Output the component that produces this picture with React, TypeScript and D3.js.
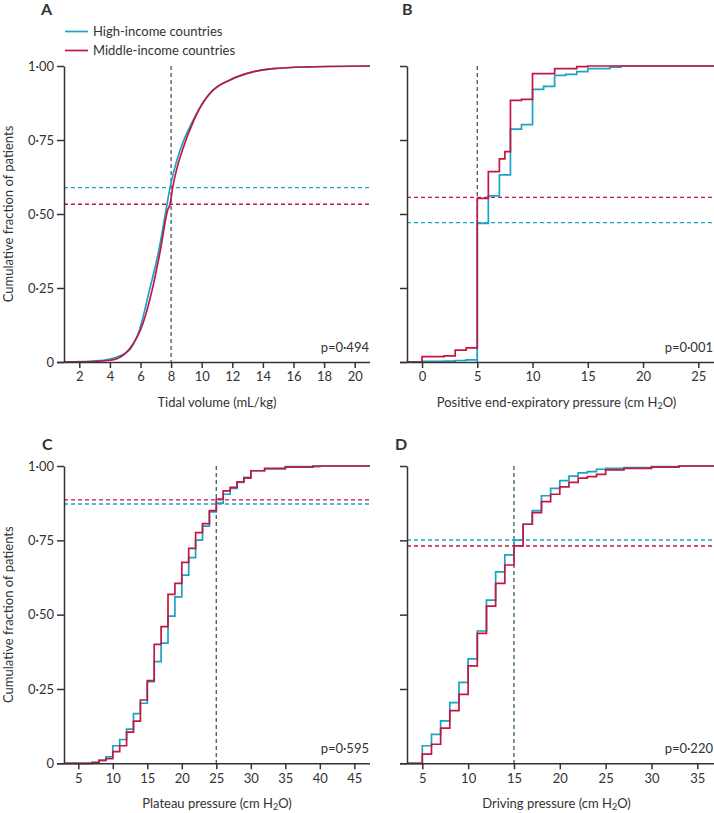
import React, { useEffect, useRef } from "react";
import * as d3 from "d3";

// Panel A: tidal volume ECDF (smooth)
const tidalHighX = [1, 2, 3, 4, 4.5, 5, 5.35, 5.93, 6.59, 7.2, 7.67, 7.93, 8.26, 8.59, 9.45, 10.2, 10.76, 11.85, 13.35, 14.67, 17, 21];
const tidalHighY = [0, 0.001, 0.003, 0.01, 0.018, 0.03, 0.045, 0.108, 0.243, 0.378, 0.514, 0.589, 0.66, 0.716, 0.818, 0.885, 0.919, 0.953, 0.98, 0.991, 0.997, 1];
const tidalMidX = [1, 2, 3, 4, 4.5, 5, 5.5, 6.0, 6.76, 7.3, 7.78, 7.93, 8.1, 8.41, 8.74, 9.5, 10.2, 10.76, 11.85, 13.35, 14.67, 17, 21];
const tidalMidY = [0, 0, 0.002, 0.006, 0.012, 0.028, 0.06, 0.108, 0.243, 0.378, 0.514, 0.533, 0.589, 0.66, 0.716, 0.818, 0.885, 0.919, 0.953, 0.98, 0.991, 0.997, 1];

// Panel B: PEEP (steps)
const peepHighX = [0, 2, 3, 4, 5, 6, 7, 8, 9, 10, 11, 12, 13, 14, 15, 17, 18];
const peepHighY = [0.002, 0.003, 0.005, 0.007, 0.468, 0.561, 0.632, 0.787, 0.802, 0.921, 0.931, 0.968, 0.972, 0.981, 0.991, 0.996, 1.0];
const peepMidX = [0, 2, 3, 4, 5, 6, 7, 7.5, 8, 9, 10, 12, 14, 15];
const peepMidY = [0.018, 0.021, 0.04, 0.048, 0.553, 0.643, 0.686, 0.711, 0.884, 0.887, 0.974, 0.991, 0.998, 1.0];

// Panel C: plateau pressure (steps)
const plateauHighX = [7, 8, 9, 10, 11, 12, 13, 14, 15, 16, 17, 18, 19, 20, 21, 22, 23, 24, 25, 26, 27, 28, 29, 30, 32, 35, 40];
const plateauHighY = [0.003, 0.01, 0.022, 0.059, 0.08, 0.115, 0.167, 0.202, 0.275, 0.342, 0.404, 0.495, 0.56, 0.633, 0.692, 0.751, 0.798, 0.846, 0.875, 0.905, 0.925, 0.945, 0.962, 0.984, 0.99, 0.998, 1.0];
const plateauMidX = [7, 8, 9, 10, 11, 12, 13, 14, 15, 16, 17, 18, 19, 20, 21, 22, 23, 24, 25, 26, 27, 28, 29, 30, 32, 35, 39];
const plateauMidY = [0.002, 0.01, 0.016, 0.039, 0.059, 0.105, 0.142, 0.213, 0.278, 0.4, 0.46, 0.568, 0.605, 0.676, 0.723, 0.776, 0.806, 0.85, 0.889, 0.916, 0.928, 0.947, 0.959, 0.984, 0.992, 0.996, 1.0];

// Panel D: driving pressure (steps)
const drivingX = [5, 6, 7, 8, 9, 10, 11, 12, 13, 14, 15, 16, 17, 18, 19, 20, 21, 22, 23, 24, 25, 27, 30, 33];
const drivingHighY = [0.059, 0.097, 0.143, 0.204, 0.272, 0.351, 0.445, 0.549, 0.644, 0.701, 0.751, 0.804, 0.85, 0.9, 0.925, 0.951, 0.966, 0.977, 0.981, 0.989, 0.992, 0.995, 0.998, 1.0];
const drivingMidY = [0.031, 0.064, 0.118, 0.177, 0.232, 0.328, 0.437, 0.529, 0.605, 0.667, 0.731, 0.804, 0.843, 0.88, 0.905, 0.93, 0.945, 0.959, 0.964, 0.972, 0.987, 0.992, 0.996, 1.0];

// reference lines: [vertical x, high-income y, middle-income y]
const refA = [8, 0.589, 0.533];
const refB = [5, 0.471, 0.556];
const refC = [25, 0.872, 0.886];
const refD = [15, 0.751, 0.731];

const pValues = ["p=0·494", "p=0·001", "p=0·595", "p=0·220"];
const yTicks = [0, 0.25, 0.5, 0.75, 1];
const seriesNames = ["High-income countries", "Middle-income countries"];

const CYAN = "#1ba3c6";
const RED = "#c41640";
const INK = "#333";
const FONT = "Lato, 'Open Sans', sans-serif";

const fmtY = (d: number) => (d === 0 ? "0" : d3.format(".2f")(d).replace(".", "·"));

export default function App() {
  const ref = useRef<SVGSVGElement>(null);

  useEffect(() => {
    const svg = d3.select(ref.current);
    svg.selectAll("*").remove();

    const panels = [
      { letter: "A", lx: 41, ly: 15, xDomain: [1, 21], xRange: [64, 370], yRange: [362, 66], ticks: d3.range(2, 21, 2),
        hx: tidalHighX, hy: tidalHighY, mx: tidalMidX, my: tidalMidY, smooth: true, refs: refA, p: pValues[0],
        label: ["Tidal volume (mL/kg)"], yLabels: true },
      { letter: "B", lx: 402, ly: 15, xDomain: [-1.36, 26.42], xRange: [407, 714], yRange: [362, 66], ticks: d3.range(0, 26, 5),
        hx: peepHighX, hy: peepHighY, mx: peepMidX, my: peepMidY, smooth: false, refs: refB, p: pValues[1],
        label: ["Positive end-expiratory pressure (cm H", "2", "O)"], yLabels: false },
      { letter: "C", lx: 42, ly: 450, xDomain: [2.93, 47.27], xRange: [64, 370], yRange: [763.3, 466], ticks: d3.range(5, 46, 5),
        hx: plateauHighX, hy: plateauHighY, mx: plateauMidX, my: plateauMidY, smooth: false, refs: refC, p: pValues[2],
        label: ["Plateau pressure (cm H", "2", "O)"], yLabels: true },
      { letter: "D", lx: 395, ly: 450, xDomain: [3.33, 36.82], xRange: [407, 714], yRange: [763.3, 466], ticks: d3.range(5, 36, 5),
        hx: drivingX, hy: drivingHighY, mx: drivingX, my: drivingMidY, smooth: false, refs: refD, p: pValues[3],
        label: ["Driving pressure (cm H", "2", "O)"], yLabels: false },
    ];

    panels.forEach((pn) => {
      const x = d3.scaleLinear().domain(pn.xDomain).range(pn.xRange);
      const y = d3.scaleLinear().domain([0, 1]).range(pn.yRange);
      const g = svg.append("g");
      const [x0, x1] = pn.xRange;
      const [yb, yt] = pn.yRange;

      // reference lines
      const dash = "4,3";
      g.append("line").attr("x1", x(pn.refs[0])).attr("x2", x(pn.refs[0]))
        .attr("y1", yt).attr("y2", yb).attr("stroke", "#48667a").attr("stroke-width", 1.4).attr("stroke-dasharray", dash);
      g.append("line").attr("x1", x0).attr("x2", x1).attr("y1", y(pn.refs[1])).attr("y2", y(pn.refs[1]))
        .attr("stroke", CYAN).attr("stroke-width", 1.4).attr("stroke-dasharray", dash);
      g.append("line").attr("x1", x0).attr("x2", x1).attr("y1", y(pn.refs[2])).attr("y2", y(pn.refs[2]))
        .attr("stroke", RED).attr("stroke-width", 1.4).attr("stroke-dasharray", dash);

      // curves
      const lo = pn.xDomain[0], hi = pn.xDomain[1];
      const build = (xs: number[], ys: number[]) => {
        const pts: [number, number][] = xs.map((v, i) => [v, ys[i]]);
        if (!pn.smooth) {
          pts.unshift([lo, 0]);
          pts.push([hi, ys[ys.length - 1]]);
        }
        return pts;
      };
      const line = d3.line<[number, number]>()
        .x((d) => x(d[0])).y((d) => y(d[1]))
        .curve(pn.smooth ? d3.curveMonotoneX : d3.curveStepAfter);
      g.append("path").attr("d", line(build(pn.hx, pn.hy))).attr("fill", "none")
        .attr("stroke", CYAN).attr("stroke-width", 1.7);
      g.append("path").attr("d", line(build(pn.mx, pn.my))).attr("fill", "none")
        .attr("stroke", RED).attr("stroke-width", 1.7);

      // axes
      const xAxis = g.append("g").attr("transform", `translate(0,${yb})`)
        .call(d3.axisBottom(x).tickValues(pn.ticks).tickSize(6).tickSizeOuter(0).tickFormat(d3.format("d")));
      xAxis.select(".domain").attr("d", `M${x0 - 7},0.5H${x1}`);
      const yAxis = g.append("g").attr("transform", `translate(${x0},0)`)
        .call(d3.axisLeft(y).tickValues(yTicks).tickSize(7).tickSizeOuter(0)
          .tickFormat(pn.yLabels ? (fmtY as any) : () => ""));
      [xAxis, yAxis].forEach((a) => {
        a.selectAll("path, line").attr("stroke", INK).attr("stroke-width", 1.5);
        a.selectAll("text").attr("fill", INK).attr("font-family", FONT).attr("font-size", 13);
      });
      xAxis.selectAll("text").attr("dy", "0.95em").attr("y", 7);
      yAxis.selectAll("text").attr("x", -10);

      // axis label
      const t = g.append("text").attr("x", (x0 + x1) / 2 - (pn.yLabels ? 0 : 4)).attr("y", yb + 45)
        .attr("text-anchor", "middle").attr("font-family", FONT).attr("font-size", 13).attr("fill", INK);
      t.append("tspan").text(pn.label[0]);
      if (pn.label.length > 1) {
        t.append("tspan").attr("dy", 2).attr("font-size", 9).text(pn.label[1]);
        t.append("tspan").attr("dy", -2).text(pn.label[2]);
      }

      // p value
      g.append("text").attr("x", x1 - 1).attr("y", yb - 10).attr("text-anchor", "end")
        .attr("font-family", FONT).attr("font-size", 13).attr("fill", INK).text(pn.p);

      // panel letter
      g.append("text").attr("x", pn.lx).attr("y", pn.ly).attr("font-family", FONT).attr("font-weight", 700)
        .attr("font-size", 16).attr("fill", INK).text(pn.letter);

      if (pn.yLabels) {
        g.append("text").attr("transform", `translate(13,${(yb + yt) / 2}) rotate(-90)`)
          .attr("text-anchor", "middle").attr("font-family", FONT).attr("font-size", 13).attr("fill", INK)
          .text("Cumulative fraction of patients");
      }
    });

    // legend
    const leg = svg.append("g");
    [CYAN, RED].forEach((c, i) => {
      leg.append("line").attr("x1", 65).attr("x2", 88).attr("y1", 31.5 + i * 19).attr("y2", 31.5 + i * 19)
        .attr("stroke", c).attr("stroke-width", 1.7);
      leg.append("text").attr("x", 93).attr("y", 36 + i * 19).attr("font-family", FONT).attr("font-size", 13)
        .attr("fill", INK).text(seriesNames[i]);
    });
  }, []);

  return (
    <div style={{ position: "absolute", left: 0, top: 0 }}>
      <svg ref={ref} width={714} height={813} style={{ display: "block", background: "#fff" }} />
    </div>
  );
}
